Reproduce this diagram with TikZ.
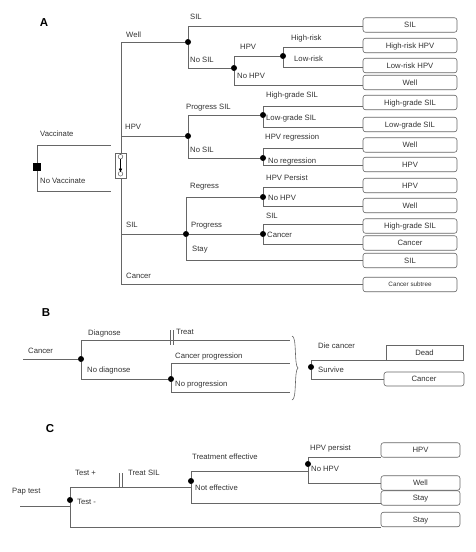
\documentclass[tikz,border=0pt]{standalone}
\usepackage{fontspec}
\setmainfont{Liberation Sans}
\usetikzlibrary{calc,arrows.meta,decorations.pathreplacing}
\begin{document}
\begin{tikzpicture}[x=1pt,y=-1pt,
  ln/.style={draw=black!60,line width=0.6pt},
  dot/.style={circle,fill=black,inner sep=0pt,minimum size=6pt},
  lab/.style={anchor=base west,yshift=-2.8pt,inner sep=0pt,text=black!80,font=\fontsize{7.7}{9}\selectfont},
  obox/.style={draw=black!60,line width=0.6pt,rounded corners=2.5pt,minimum width=94pt,minimum height=14.5pt,inner sep=0pt,text height=5.6pt,text depth=0pt,text=black!80,font=\fontsize{7.7}{9}\selectfont},
  cbox/.style={obox,minimum width=79pt},
  panel/.style={inner sep=0pt,font=\fontsize{11.5}{13}\bfseries\selectfont}
]
\useasboundingbox[fill=white] (0,0) rectangle (476,552);

% ================= Panel A =================
\node[panel] (pA) at (44,23) {A};
\node[fill=black,inner sep=0pt,minimum size=8pt] (D) at (37,167) {};
\coordinate (vE) at (111,145);
\coordinate (nvE) at (111,191);
\draw[ln] (D) |- (vE);
\draw[ln] (D) |- (nvE);
\node[lab] (lVac) at (40,134) {Vaccinate};
\node[lab] (lNoVac) at (40,181) {No Vaccinate};

% Markov node
\node[draw=black!60,line width=0.6pt,minimum width=11pt,minimum height=25pt,inner sep=0pt] (M) at (121,165.5) {};
\draw[black!60,line width=0.5pt] ($(M.center)+(-0.5,-8.8)$) circle (2.3pt);
\draw[black!60,line width=0.5pt] ($(M.center)+(-0.5,8.3)$) circle (2.3pt);
\draw[black,line width=0.5pt,-{Latex[length=3.6pt,width=3.6pt]}] ($(M.center)+(-0.5,-6.5)$) -- ($(M.center)+(-0.5,6.8)$);

% outcome boxes
\node[obox] (a1) at (410,25) {SIL};
\node[obox] (a2) at (410,45.5) {High-risk HPV};
\node[obox] (a3) at (410,65.5) {Low-risk HPV};
\node[obox] (a4) at (410,82.5) {Well};
\node[obox] (a5) at (410,102.5) {High-grade SIL};
\node[obox] (a6) at (410,124.5) {Low-grade SIL};
\node[obox] (a7) at (410,145) {Well};
\node[obox] (a8) at (410,164.5) {HPV};
\node[obox] (a9) at (410,185.5) {HPV};
\node[obox] (a10) at (410,205.5) {Well};
\node[obox] (a11) at (410,226) {High-grade SIL};
\node[obox] (a12) at (410,243) {Cancer};
\node[obox] (a13) at (410,260.5) {SIL};
\node[obox,font=\fontsize{6.3}{8}\selectfont,text height=4.6pt] (a14) at (410,284.5) {Cancer subtree};

% chance nodes
\node[dot] (dW) at (188,42) {};
\node[dot] (dNS) at (234,68) {};
\node[dot] (dHPV) at (283,56) {};
\node[dot] (dH) at (188,136) {};
\node[dot] (dPS) at (263,115) {};
\node[dot] (dNS2) at (263,158) {};
\node[dot] (dS) at (186,234) {};
\node[dot] (dR) at (263,197) {};
\node[dot] (dP) at (263,234) {};

% trunk
\draw[ln] (M.north) |- (dW);
\draw[ln] (M.north) |- (dH);
\draw[ln] (M.south) |- (dS);
\draw[ln] (M.south) |- (a14.west |- 0,284);

\draw[ln] (dW) |- (a1.west |- 0,26);
\draw[ln] (dW) |- (dNS);
\draw[ln] (dNS) |- (dHPV);
\draw[ln] (dNS) |- (a4.west |- 0,85);
\draw[ln] (dHPV) |- (a2.west |- 0,47);
\draw[ln] (dHPV) |- (a3.west |- 0,67);
\draw[ln] (dH) |- (dPS);
\draw[ln] (dH) |- (dNS2);
\draw[ln] (dPS) |- (a5.west |- 0,106);
\draw[ln] (dPS) |- (a6.west |- 0,127);
\draw[ln] (dNS2) |- (a7.west |- 0,148);
\draw[ln] (dNS2) |- (a8.west |- 0,165);
\draw[ln] (dS) |- (dR);
\draw[ln] (dS) -- (dP);
\draw[ln] (dS) |- (a13.west |- 0,260);
\draw[ln] (dR) |- (a9.west |- 0,187);
\draw[ln] (dR) |- (a10.west |- 0,206);
\draw[ln] (dP) |- (a11.west |- 0,224);
\draw[ln] (dP) |- (a12.west |- 0,244);

% labels A
\node[lab] (t1) at (126,35) {Well};
\node[lab] (t2) at (125,127) {HPV};
\node[lab] (t3) at (126,225) {SIL};
\node[lab] (t4) at (126,276) {Cancer};
\node[lab] (t5) at (190,17) {SIL};
\node[lab] (t6) at (190,60) {No SIL};
\node[lab] (t7) at (240,47) {HPV};
\node[lab] (t8) at (237,76) {No HPV};
\node[lab] (t9) at (291,38) {High-risk};
\node[lab] (t10) at (294,59) {Low-risk};
\node[lab] (t11) at (186,107) {Progress SIL};
\node[lab] (t12) at (190,150) {No SIL};
\node[lab] (t13) at (266,95) {High-grade SIL};
\node[lab] (t14) at (266,118) {Low-grade SIL};
\node[lab] (t15) at (265,137) {HPV regression};
\node[lab] (t16) at (268,161) {No regression};
\node[lab] (t17) at (190,186) {Regress};
\node[lab] (t18) at (191,225) {Progress};
\node[lab] (t19) at (192,249) {Stay};
\node[lab] (t20) at (266,178) {HPV Persist};
\node[lab] (t21) at (268,198) {No HPV};
\node[lab] (t22) at (266,216) {SIL};
\node[lab] (t23) at (267,235) {Cancer};

% ================= Panel B =================
\node[panel] (pB) at (46,313) {B};
\coordinate (cB0) at (23,359);
\node[dot] (dB1) at (81,359) {};
\node[dot] (dB2) at (171,379) {};
\coordinate (eD) at (290,340);
\coordinate (eCP) at (290,363);
\coordinate (eNP) at (290,392);
\coordinate (tB) at (171.5,340);
\draw[ln] (cB0) -- (dB1);
\draw[ln] (dB1) |- (eD);
\draw[ln] (dB1) |- (dB2);
\draw[ln] (dB2) |- (eCP);
\draw[ln] (dB2) |- (eNP);
\draw[ln] ($(tB)+(-1.5,-10)$) -- ++(0,15);
\draw[ln] ($(tB)+(1.5,-10)$) -- ++(0,15);
\coordinate (brT) at (292,336);
\coordinate (brB) at (292,400);
\draw[ln] (brT) .. controls (297,336) and (294,366) .. (298,368) .. controls (294,370) and (297,400) .. (brB);
\node[dot] (dB3) at (311,367) {};
\node[draw=black!60,line width=0.6pt,minimum width=77pt,minimum height=15pt,inner sep=0pt,text height=5.6pt,text depth=0pt,text=black!80,font=\fontsize{7.7}{9}\selectfont] (bDead) at (424.5,352.5) {Dead};
\node[obox,minimum width=80pt,minimum height=14pt] (bCan) at (424,379) {Cancer};
\draw[ln] (dB3) |- (bDead.south west);
\draw[ln] (dB3) |- (bCan.west);
\node[lab] (u1) at (28,351) {Cancer};
\node[lab] (u2) at (88,333) {Diagnose};
\node[lab] (u3) at (176,332) {Treat};
\node[lab] (u4) at (87,370) {No diagnose};
\node[lab] (u5) at (175,356) {Cancer progression};
\node[lab] (u6) at (175,384) {No progression};
\node[lab] (u7) at (318,346) {Die cancer};
\node[lab] (u8) at (318,370) {Survive};

% ================= Panel C =================
\node[panel] (pC) at (50,429) {C};
\node[cbox] (c1) at (420.5,450) {HPV};
\node[cbox] (c2) at (420.5,483) {Well};
\node[cbox] (c3) at (420.5,498) {Stay};
\node[cbox] (c4) at (420.5,519.5) {Stay};
\coordinate (cP) at (20,506);
\node[dot] (dC1) at (70,500) {};
\node[dot] (dC2) at (191,481) {};
\node[dot] (dC3) at (308,464) {};
\coordinate (tC) at (120.5,487);
\draw[ln] (cP) -- (dC1 |- cP);
\draw[ln] (dC1) |- (dC2 |- 0,487);
\draw[ln] (dC1) |- (c4.south west);
\draw[ln] (dC2) |- (dC3 |- 0,471);
\draw[ln] (dC2) |- (c3.west |- 0,503);
\draw[ln] (dC3) |- (c1.south west);
\draw[ln] (dC3) |- (c2.west);
\draw[ln] ($(tC)+(-1.5,-14)$) -- ++(0,14);
\draw[ln] ($(tC)+(1.5,-14)$) -- ++(0,14);
\node[lab] (v1) at (12,491) {Pap test};
\node[lab] (v2) at (75,473) {Test +};
\node[lab] (v3) at (128,473) {Treat SIL};
\node[lab] (v4) at (77,502) {Test -};
\node[lab] (v5) at (192,457) {Treatment effective};
\node[lab] (v6) at (195,488) {Not effective};
\node[lab] (v7) at (310,448) {HPV persist};
\node[lab] (v8) at (311,469) {No HPV};
\end{tikzpicture}
\end{document}
